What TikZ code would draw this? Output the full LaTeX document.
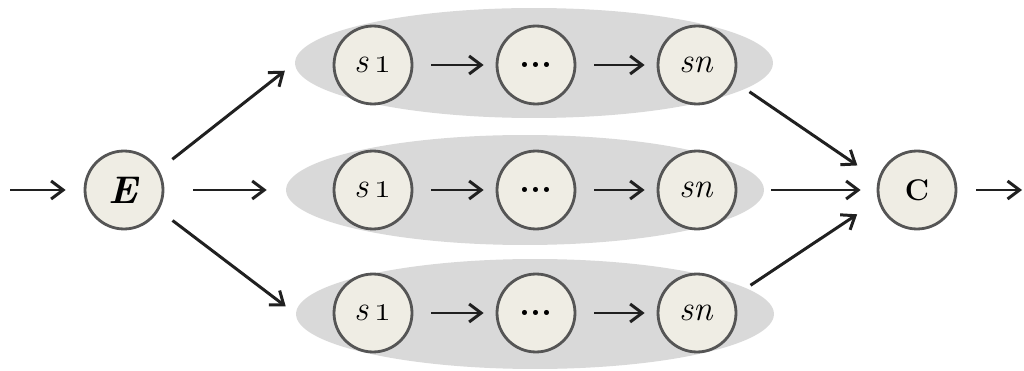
\documentclass[tikz,border=0pt]{standalone}
\usepackage{tikz}
\usetikzlibrary{shapes.geometric, arrows.meta}

\definecolor{stategray}{HTML}{555555}
\definecolor{statefill}{HTML}{EFEDE4}
\definecolor{groupfill}{HTML}{D9D9D9}
\definecolor{arrowgray}{HTML}{202020}

\begin{document}
\begin{tikzpicture}[x=0.02cm, y=-0.02cm,
        state/.style={circle, draw=stategray, line width=1.6pt, fill=statefill,
            minimum size=1.56cm, inner sep=0pt, font=\fontsize{20}{24}\selectfont},
        group/.style={ellipse, fill=groupfill, minimum width=9.56cm, minimum height=2.2cm},
        arr/.style={arrowgray, line width=1.7pt,
            -{Straight Barb[length=2.4mm, width=3.6mm, line width=1.7pt]}}]
        \useasboundingbox (0,0) rectangle (1024,371);

        % Groups
        \node[group] (g1) at (534, 63) {};
        \node[group] (g2) at (525, 190) {};
        \node[group] (g3) at (535, 314) {};

        % Nodes
        \node[state, font=\fontsize{22}{26}\selectfont] (E) at (124, 190) {\textbf{\textit{E}}};
        \node[state, font=\fontsize{17}{20}\selectfont] (C) at (917, 190) {\textbf{C}};

        \node[state] (a1) at (373, 65) {\textit{s}\,\oldstylenums{1}};
        \node[state] (a2) at (536, 65) {\textbf{...}};
        \node[state] (a3) at (697, 65) {\textit{sn}};

        \node[state] (b1) at (373, 190) {\textit{s}\,\oldstylenums{1}};
        \node[state] (b2) at (536, 190) {\textbf{...}};
        \node[state] (b3) at (697, 190) {\textit{sn}};

        \node[state] (c1) at (373, 313) {\textit{s}\,\oldstylenums{1}};
        \node[state] (c2) at (536, 313) {\textbf{...}};
        \node[state] (c3) at (697, 313) {\textit{sn}};

        \coordinate (in) at (10, 190);
        \coordinate (out) at (1022, 190);

        % Edges
        \draw[arr, shorten >=0.36cm] (in) -- (E);
        \draw[arr, shorten <=0.34cm, shorten >=0.25cm] (E.30) -- (g1.west);
        \draw[arr, shorten <=0.58cm, shorten >=0.38cm] (E.east) -- (g2.west);
        \draw[arr, shorten <=0.34cm, shorten >=0.25cm] (E.-30) -- (g3.west);

        \draw[arr, shorten <=0.36cm, shorten >=0.24cm] (a1) -- (a2);
        \draw[arr, shorten <=0.36cm, shorten >=0.24cm] (a2) -- (a3);
        \draw[arr, shorten <=0.36cm, shorten >=0.24cm] (b1) -- (b2);
        \draw[arr, shorten <=0.36cm, shorten >=0.24cm] (b2) -- (b3);
        \draw[arr, shorten <=0.36cm, shorten >=0.24cm] (c1) -- (c2);
        \draw[arr, shorten <=0.36cm, shorten >=0.24cm] (c2) -- (c3);

        \draw[arr, shorten <=0.1cm, shorten >=0.5cm] (g1.-7) -- (C.165);
        \draw[arr, shorten <=0.14cm, shorten >=0.32cm] (g2.east) -- (C.west);
        \draw[arr, shorten <=0.1cm, shorten >=0.5cm] (g3.7) -- (C.195);

        \draw[arr, shorten <=0.38cm] (C) -- (out);
    \end{tikzpicture}
\end{document}
